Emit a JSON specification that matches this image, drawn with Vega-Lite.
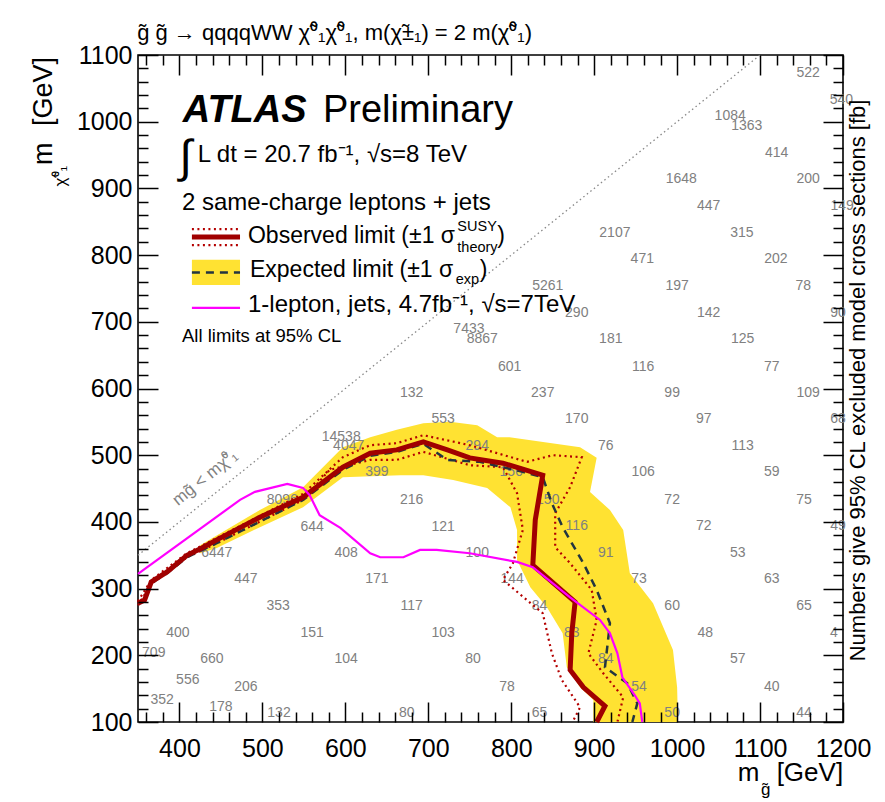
{
"$schema": "https://vega.github.io/schema/vega-lite/v6.json",
"width": 705, "height": 667,
"autosize": {"type": "none"},
"padding": {"left": 138, "top": 55, "right": 42, "bottom": 80},
"background": "white",
"config": {"view": {"stroke": "black", "strokeWidth": 1.6}, "font": "Liberation Sans", "text": {"font": "Liberation Sans"}},
"resolve": {"axis": {"x": "independent", "y": "independent"}},
"datasets": {
"band": [{"i":1,"mg":425,"mc":365},{"i":2,"mg":497,"mc":418},{"i":3,"mg":549,"mc":452},{"i":4,"mg":597,"mc":512},{"i":5,"mg":630,"mc":527},{"i":6,"mg":662,"mc":538},{"i":7,"mg":694,"mc":548},{"i":8,"mg":726,"mc":550},{"i":9,"mg":759,"mc":545},{"i":10,"mg":783,"mc":527},{"i":11,"mg":798,"mc":527},{"i":12,"mg":883,"mc":512},{"i":13,"mg":903,"mc":496},{"i":14,"mg":895,"mc":445},{"i":15,"mg":919,"mc":418},{"i":16,"mg":935,"mc":388},{"i":17,"mg":943,"mc":323},{"i":18,"mg":971,"mc":278},{"i":19,"mg":995,"mc":208},{"i":20,"mg":1000,"mc":152},{"i":21,"mg":1001,"mc":100},{"i":22,"mg":899,"mc":100},{"i":23,"mg":899,"mc":133},{"i":24,"mg":883,"mc":152},{"i":25,"mg":867,"mc":182},{"i":26,"mg":862,"mc":233},{"i":27,"mg":843,"mc":272},{"i":28,"mg":823,"mc":302},{"i":29,"mg":807,"mc":343},{"i":30,"mg":807,"mc":388},{"i":31,"mg":799,"mc":422},{"i":32,"mg":771,"mc":451},{"i":33,"mg":730,"mc":463},{"i":34,"mg":694,"mc":470},{"i":35,"mg":666,"mc":470},{"i":36,"mg":597,"mc":467},{"i":37,"mg":549,"mc":422},{"i":38,"mg":497,"mc":392},{"i":39,"mg":445,"mc":361},{"i":40,"mg":425,"mc":353}],
"obs": [{"i":1,"mg":350,"mc":278},{"i":2,"mg":358,"mc":283},{"i":3,"mg":366,"mc":310},{"i":4,"mg":385,"mc":325},{"i":5,"mg":409,"mc":350},{"i":6,"mg":427,"mc":361},{"i":7,"mg":445,"mc":373},{"i":8,"mg":497,"mc":407},{"i":9,"mg":549,"mc":437},{"i":10,"mg":597,"mc":482},{"i":11,"mg":630,"mc":503},{"i":12,"mg":662,"mc":508},{"i":13,"mg":694,"mc":520},{"i":14,"mg":723,"mc":508},{"i":15,"mg":750,"mc":496},{"i":16,"mg":790,"mc":488},{"i":17,"mg":838,"mc":470},{"i":18,"mg":829,"mc":403},{"i":19,"mg":826,"mc":335},{"i":20,"mg":877,"mc":280},{"i":21,"mg":873,"mc":233},{"i":22,"mg":871,"mc":178},{"i":23,"mg":887,"mc":152},{"i":24,"mg":913,"mc":124},{"i":25,"mg":903,"mc":100}],
"exp": [{"i":1,"mg":350,"mc":278},{"i":2,"mg":358,"mc":283},{"i":3,"mg":366,"mc":308},{"i":4,"mg":385,"mc":323},{"i":5,"mg":409,"mc":347},{"i":6,"mg":445,"mc":368},{"i":7,"mg":549,"mc":433},{"i":8,"mg":597,"mc":478},{"i":9,"mg":630,"mc":499},{"i":10,"mg":662,"mc":505},{"i":11,"mg":694,"mc":517},{"i":12,"mg":723,"mc":493},{"i":13,"mg":762,"mc":490},{"i":14,"mg":814,"mc":475},{"i":15,"mg":838,"mc":467},{"i":16,"mg":849,"mc":428},{"i":17,"mg":862,"mc":392},{"i":18,"mg":887,"mc":338},{"i":19,"mg":903,"mc":298},{"i":20,"mg":919,"mc":248},{"i":21,"mg":913,"mc":182},{"i":22,"mg":940,"mc":158},{"i":23,"mg":952,"mc":128},{"i":24,"mg":946,"mc":100}],
"thup": [{"i":1,"mg":350,"mc":281},{"i":2,"mg":366,"mc":313},{"i":3,"mg":409,"mc":353},{"i":4,"mg":445,"mc":376},{"i":5,"mg":549,"mc":442},{"i":6,"mg":597,"mc":497},{"i":7,"mg":630,"mc":515},{"i":8,"mg":662,"mc":518},{"i":9,"mg":694,"mc":530},{"i":10,"mg":750,"mc":515},{"i":11,"mg":819,"mc":490},{"i":12,"mg":850,"mc":500},{"i":13,"mg":885,"mc":497},{"i":14,"mg":871,"mc":452},{"i":15,"mg":853,"mc":413},{"i":16,"mg":853,"mc":362},{"i":17,"mg":871,"mc":338},{"i":18,"mg":897,"mc":298},{"i":19,"mg":903,"mc":253},{"i":20,"mg":893,"mc":203},{"i":21,"mg":911,"mc":173},{"i":22,"mg":935,"mc":137},{"i":23,"mg":928,"mc":100}],
"thdn": [{"i":1,"mg":350,"mc":275},{"i":2,"mg":366,"mc":307},{"i":3,"mg":409,"mc":347},{"i":4,"mg":445,"mc":368},{"i":5,"mg":549,"mc":433},{"i":6,"mg":581,"mc":478},{"i":7,"mg":630,"mc":493},{"i":8,"mg":662,"mc":493},{"i":9,"mg":694,"mc":505},{"i":10,"mg":750,"mc":485},{"i":11,"mg":790,"mc":482},{"i":12,"mg":807,"mc":443},{"i":13,"mg":814,"mc":388},{"i":14,"mg":802,"mc":338},{"i":15,"mg":790,"mc":313},{"i":16,"mg":838,"mc":263},{"i":17,"mg":849,"mc":203},{"i":18,"mg":861,"mc":163},{"i":19,"mg":883,"mc":122},{"i":20,"mg":874,"mc":100}],
"lep7": [{"i":1,"mg":350,"mc":322},{"i":2,"mg":473,"mc":433},{"i":3,"mg":491,"mc":445},{"i":4,"mg":530,"mc":457},{"i":5,"mg":549,"mc":451},{"i":6,"mg":557,"mc":440},{"i":7,"mg":569,"mc":410},{"i":8,"mg":594,"mc":391},{"i":9,"mg":630,"mc":353},{"i":10,"mg":642,"mc":347},{"i":11,"mg":670,"mc":347},{"i":12,"mg":690,"mc":358},{"i":13,"mg":710,"mc":358},{"i":14,"mg":750,"mc":353},{"i":15,"mg":807,"mc":340},{"i":16,"mg":826,"mc":332},{"i":17,"mg":871,"mc":287},{"i":18,"mg":907,"mc":253},{"i":19,"mg":919,"mc":233},{"i":20,"mg":928,"mc":203},{"i":21,"mg":934,"mc":167},{"i":22,"mg":949,"mc":140},{"i":23,"mg":955,"mc":128},{"i":24,"mg":958,"mc":100}],
"diag": [{"i":1,"mg":350,"mc":350},{"i":2,"mg":1100,"mc":1100}],
"xs": [
{"mg":1158,"mc":1073,"t":"522"},{"mg":1198,"mc":1033,"t":"540"},{"mg":1064,"mc":1009,"t":"1084"},{"mg":1084,"mc":994,"t":"1363"},{"mg":1120,"mc":953,"t":"414"},{"mg":1005,"mc":914,"t":"1648"},{"mg":1158,"mc":914,"t":"200"},{"mg":1038,"mc":874,"t":"447"},{"mg":1199,"mc":874,"t":"149"},{"mg":925,"mc":833,"t":"2107"},{"mg":1078,"mc":833,"t":"315"},{"mg":958,"mc":794,"t":"471"},{"mg":1119,"mc":794,"t":"202"},{"mg":844,"mc":754,"t":"5261"},{"mg":1000,"mc":754,"t":"197"},{"mg":1152,"mc":754,"t":"78"},{"mg":879,"mc":713,"t":"290"},{"mg":1038,"mc":713,"t":"142"},{"mg":1194,"mc":713,"t":"90"},{"mg":749,"mc":689,"t":"7433"},{"mg":765,"mc":674,"t":"8867"},{"mg":920,"mc":674,"t":"181"},{"mg":1079,"mc":674,"t":"125"},{"mg":798,"mc":632,"t":"601"},{"mg":959,"mc":632,"t":"116"},{"mg":1114,"mc":632,"t":"77"},{"mg":680,"mc":593,"t":"132"},{"mg":838,"mc":593,"t":"237"},{"mg":994,"mc":593,"t":"99"},{"mg":1158,"mc":593,"t":"109"},{"mg":718,"mc":554,"t":"553"},{"mg":879,"mc":554,"t":"170"},{"mg":1032,"mc":554,"t":"97"},{"mg":1194,"mc":554,"t":"68"},{"mg":595,"mc":527,"t":"14538"},{"mg":604,"mc":514,"t":"4047"},{"mg":759,"mc":514,"t":"294"},{"mg":914,"mc":514,"t":"76"},{"mg":1079,"mc":514,"t":"113"},{"mg":638,"mc":475,"t":"399"},{"mg":800,"mc":475,"t":"150"},{"mg":959,"mc":475,"t":"106"},{"mg":1114,"mc":475,"t":"59"},{"mg":524,"mc":433,"t":"8096"},{"mg":680,"mc":433,"t":"216"},{"mg":844,"mc":433,"t":"150"},{"mg":994,"mc":433,"t":"72"},{"mg":1153,"mc":433,"t":"75"},{"mg":560,"mc":392,"t":"644"},{"mg":718,"mc":392,"t":"121"},{"mg":879,"mc":394,"t":"116"},{"mg":1032,"mc":394,"t":"72"},{"mg":1194,"mc":394,"t":"49"},{"mg":445,"mc":353,"t":"6447"},{"mg":601,"mc":353,"t":"408"},{"mg":759,"mc":353,"t":"100"},{"mg":914,"mc":353,"t":"91"},{"mg":1073,"mc":353,"t":"53"},{"mg":480,"mc":314,"t":"447"},{"mg":638,"mc":314,"t":"171"},{"mg":801,"mc":314,"t":"144"},{"mg":954,"mc":314,"t":"73"},{"mg":1114,"mc":314,"t":"63"},{"mg":519,"mc":274,"t":"353"},{"mg":680,"mc":274,"t":"117"},{"mg":834,"mc":274,"t":"84"},{"mg":994,"mc":274,"t":"60"},{"mg":1153,"mc":274,"t":"65"},{"mg":398,"mc":233,"t":"400"},{"mg":560,"mc":233,"t":"151"},{"mg":718,"mc":233,"t":"103"},{"mg":873,"mc":233,"t":"83"},{"mg":1034,"mc":233,"t":"48"},{"mg":1189,"mc":233,"t":"4"},{"mg":369,"mc":204,"t":"709"},{"mg":439,"mc":195,"t":"660"},{"mg":601,"mc":195,"t":"104"},{"mg":754,"mc":195,"t":"80"},{"mg":914,"mc":195,"t":"84"},{"mg":1073,"mc":195,"t":"57"},{"mg":410,"mc":163,"t":"556"},{"mg":480,"mc":153,"t":"206"},{"mg":795,"mc":153,"t":"78"},{"mg":954,"mc":153,"t":"54"},{"mg":1114,"mc":153,"t":"40"},{"mg":379,"mc":133,"t":"352"},{"mg":450,"mc":123,"t":"178"},{"mg":520,"mc":114,"t":"132"},{"mg":674,"mc":114,"t":"80"},{"mg":834,"mc":114,"t":"65"},{"mg":994,"mc":114,"t":"50"},{"mg":1153,"mc":114,"t":"44"}]
},
"layer": [
{"data": {"name": "band"}, "mark": {"type": "line", "fill": "#ffe232", "strokeOpacity": 0, "interpolate": "linear-closed"},
 "encoding": {
  "x": {"field": "mg", "type": "quantitative", "scale": {"domain": [350, 1200], "nice": false, "zero": false},
        "axis": {"orient": "bottom", "values": [400,500,600,700,800,900,1000,1100,1200], "format": "d", "ticks": false, "domain": false, "grid": false, "labelFontSize": 25, "labelColor": "black", "labelPadding": 14, "labelFlush": false, "labelFont": "Liberation Sans", "title": null}},
  "y": {"field": "mc", "type": "quantitative", "scale": {"domain": [100, 1100], "nice": false, "zero": false},
        "axis": {"orient": "left", "values": [100,200,300,400,500,600,700,800,900,1000,1100], "format": "d", "ticks": false, "domain": false, "grid": false, "labelFontSize": 25, "labelColor": "black", "labelPadding": 6, "labelFlush": false, "labelFont": "Liberation Sans", "title": null}},
  "order": {"field": "i", "type": "quantitative"}}},
{"data": {"name": "xs"}, "mark": {"type": "text", "fontSize": 14, "color": "#808080", "align": "center", "baseline": "middle"},
 "encoding": {
  "x": {"field": "mg", "type": "quantitative", "axis": {"orient": "bottom", "values": [400,500,600,700,800,900,1000,1100,1200], "labels": false, "domain": false, "grid": false, "tickSize": -20, "tickColor": "black", "tickWidth": 1.5, "title": null, "zindex": 1}},
  "y": {"field": "mc", "type": "quantitative", "axis": {"orient": "left", "values": [100,200,300,400,500,600,700,800,900,1000,1100], "labels": false, "domain": false, "grid": false, "tickSize": -20, "tickColor": "black", "tickWidth": 1.5, "title": null, "zindex": 1}},
  "text": {"field": "t", "type": "nominal"}}},
{"data": {"name": "diag"}, "mark": {"type": "line", "color": "#888888", "strokeWidth": 1.3, "strokeDash": [1.5, 3]},
 "encoding": {
  "x": {"field": "mg", "type": "quantitative", "axis": {"orient": "bottom", "values": [360,380,420,440,460,480,520,540,560,580,620,640,660,680,720,740,760,780,820,840,860,880,920,940,960,980,1020,1040,1060,1080,1120,1140,1160,1180], "labels": false, "domain": false, "grid": false, "tickSize": -10, "tickColor": "black", "tickWidth": 1.5, "title": null, "zindex": 1}},
  "y": {"field": "mc", "type": "quantitative", "axis": {"orient": "left", "values": [120,140,160,180,220,240,260,280,320,340,360,380,420,440,460,480,520,540,560,580,620,640,660,680,720,740,760,780,820,840,860,880,920,940,960,980,1020,1040,1060,1080], "labels": false, "domain": false, "grid": false, "tickSize": -10, "tickColor": "black", "tickWidth": 1.5, "title": null, "zindex": 1}},
  "order": {"field": "i", "type": "quantitative"}}},
{"data": {"name": "thdn"}, "mark": {"type": "line", "color": "#b40000", "strokeWidth": 2.2, "strokeDash": [2, 3.5]},
 "encoding": {
  "x": {"field": "mg", "type": "quantitative", "axis": {"orient": "top", "values": [400,500,600,700,800,900,1000,1100,1200], "labels": false, "domain": false, "grid": false, "tickSize": -20, "tickColor": "black", "tickWidth": 1.5, "title": null, "zindex": 1}},
  "y": {"field": "mc", "type": "quantitative", "axis": {"orient": "right", "values": [100,200,300,400,500,600,700,800,900,1000,1100], "labels": false, "domain": false, "grid": false, "tickSize": -20, "tickColor": "black", "tickWidth": 1.5, "title": null, "zindex": 1}},
  "order": {"field": "i", "type": "quantitative"}}},
{"data": {"name": "thup"}, "mark": {"type": "line", "color": "#b40000", "strokeWidth": 2.2, "strokeDash": [2, 3.5]},
 "encoding": {
  "x": {"field": "mg", "type": "quantitative", "axis": {"orient": "top", "values": [360,380,420,440,460,480,520,540,560,580,620,640,660,680,720,740,760,780,820,840,860,880,920,940,960,980,1020,1040,1060,1080,1120,1140,1160,1180], "labels": false, "domain": false, "grid": false, "tickSize": -10, "tickColor": "black", "tickWidth": 1.5, "title": null, "zindex": 1}},
  "y": {"field": "mc", "type": "quantitative", "axis": {"orient": "right", "values": [120,140,160,180,220,240,260,280,320,340,360,380,420,440,460,480,520,540,560,580,620,640,660,680,720,740,760,780,820,840,860,880,920,940,960,980,1020,1040,1060,1080], "labels": false, "domain": false, "grid": false, "tickSize": -10, "tickColor": "black", "tickWidth": 1.5, "title": null, "zindex": 1}},
  "order": {"field": "i", "type": "quantitative"}}},
{"data": {"name": "exp"}, "mark": {"type": "line", "color": "#233540", "strokeWidth": 2.5, "strokeDash": [8, 6]},
 "encoding": {"x": {"field": "mg", "type": "quantitative", "axis": null}, "y": {"field": "mc", "type": "quantitative", "axis": null}, "order": {"field": "i", "type": "quantitative"}}},
{"data": {"name": "obs"}, "mark": {"type": "line", "color": "#a00000", "strokeWidth": 5, "strokeJoin": "miter"},
 "encoding": {"x": {"field": "mg", "type": "quantitative", "axis": null}, "y": {"field": "mc", "type": "quantitative", "axis": null}, "order": {"field": "i", "type": "quantitative"}}},
{"data": {"name": "lep7"}, "mark": {"type": "line", "color": "#ff00ff", "strokeWidth": 2.2},
 "encoding": {"x": {"field": "mg", "type": "quantitative", "axis": null}, "y": {"field": "mc", "type": "quantitative", "axis": null}, "order": {"field": "i", "type": "quantitative"}}},
{"data": {"values": [{"x1": 415, "x2": 473, "y1": 755, "y2": 793}]}, "mark": {"type": "rect", "color": "#ffe232"},
 "encoding": {"x": {"field": "x1", "type": "quantitative", "axis": null}, "x2": {"field": "x2"}, "y": {"field": "y1", "type": "quantitative", "axis": null}, "y2": {"field": "y2"}}},
{"data": {"values": [{"x1": 415, "x2": 473, "y": 774}]}, "mark": {"type": "rule", "color": "#233540", "strokeWidth": 2.5, "strokeDash": [8, 6]},
 "encoding": {"x": {"field": "x1", "type": "quantitative", "axis": null}, "x2": {"field": "x2"}, "y": {"field": "y", "type": "quantitative", "axis": null}}},
{"data": {"values": [{"x1": 415, "x2": 473, "y": 827}]}, "mark": {"type": "rule", "color": "#a00000", "strokeWidth": 5},
 "encoding": {"x": {"field": "x1", "type": "quantitative", "axis": null}, "x2": {"field": "x2"}, "y": {"field": "y", "type": "quantitative", "axis": null}}},
{"data": {"values": [{"x1": 415, "x2": 473, "y": 839}, {"x1": 415, "x2": 473, "y": 815}]}, "mark": {"type": "rule", "color": "#b40000", "strokeWidth": 2.2, "strokeDash": [2, 3.5]},
 "encoding": {"x": {"field": "x1", "type": "quantitative", "axis": null}, "x2": {"field": "x2"}, "y": {"field": "y", "type": "quantitative", "axis": null}}},
{"data": {"values": [{"x1": 415, "x2": 473, "y": 721}]}, "mark": {"type": "rule", "color": "#ff00ff", "strokeWidth": 2.2},
 "encoding": {"x": {"field": "x1", "type": "quantitative", "axis": null}, "x2": {"field": "x2"}, "y": {"field": "y", "type": "quantitative", "axis": null}}},
{"data": {"values": [{"x": 404, "y": 1000, "t": "ATLAS"}]}, "mark": {"type": "text", "fontSize": 38, "fontWeight": "bold", "fontStyle": "italic", "align": "left", "baseline": "alphabetic", "color": "black"},
 "encoding": {"x": {"field": "x", "type": "quantitative", "axis": null}, "y": {"field": "y", "type": "quantitative", "axis": null}, "text": {"field": "t"}}},
{"data": {"values": [{"x": 573, "y": 1000, "t": "Preliminary"}]}, "mark": {"type": "text", "fontSize": 38, "align": "left", "baseline": "alphabetic", "color": "black"},
 "encoding": {"x": {"field": "x", "type": "quantitative", "axis": null}, "y": {"field": "y", "type": "quantitative", "axis": null}, "text": {"field": "t"}}},
{"data": {"values": [{"x": 400, "y": 925, "t": "∫"}]}, "mark": {"type": "text", "fontSize": 46, "align": "left", "baseline": "alphabetic", "color": "black"},
 "encoding": {"x": {"field": "x", "type": "quantitative", "axis": null}, "y": {"field": "y", "type": "quantitative", "axis": null}, "text": {"field": "t"}}},
{"data": {"values": [{"x": 422, "y": 940, "t": "L dt = 20.7 fb⁻¹, √s=8 TeV"}, {"x": 403, "y": 868, "t": "2 same-charge leptons + jets"}, {"x": 482.6, "y": 715, "t": "1-lepton, jets, 4.7fb⁻¹, √s=7TeV"}]},
 "mark": {"type": "text", "fontSize": 24, "align": "left", "baseline": "alphabetic", "color": "black"},
 "encoding": {"x": {"field": "x", "type": "quantitative", "axis": null}, "y": {"field": "y", "type": "quantitative", "axis": null}, "text": {"field": "t"}}},
{"data": {"values": [{"x": 482.6, "y": 818, "t": "Observed limit (±1 σ"}, {"x": 783, "y": 818, "t": ")"}, {"x": 485, "y": 767, "t": "Expected limit (±1 σ"}, {"x": 762, "y": 767, "t": ")"}]},
 "mark": {"type": "text", "fontSize": 23, "align": "left", "baseline": "alphabetic", "color": "black"},
 "encoding": {"x": {"field": "x", "type": "quantitative", "axis": null}, "y": {"field": "y", "type": "quantitative", "axis": null}, "text": {"field": "t"}}},
{"data": {"values": [{"x": 735, "y": 836, "t": "SUSY"}, {"x": 735, "y": 805, "t": "theory"}, {"x": 733, "y": 757, "t": "exp"}]},
 "mark": {"type": "text", "fontSize": 14.5, "align": "left", "baseline": "alphabetic", "color": "black"},
 "encoding": {"x": {"field": "x", "type": "quantitative", "axis": null}, "y": {"field": "y", "type": "quantitative", "axis": null}, "text": {"field": "t"}}},
{"data": {"values": [{"x": 403, "y": 670, "t": "All limits at 95% CL"}]}, "mark": {"type": "text", "fontSize": 18.5, "align": "left", "baseline": "alphabetic", "color": "black"},
 "encoding": {"x": {"field": "x", "type": "quantitative", "axis": null}, "y": {"field": "y", "type": "quantitative", "axis": null}, "text": {"field": "t"}}},
{"data": {"values": [{"x": 349, "y": 1122, "t": "g̃ g̃ → qqqqWW χ̃⁰₁χ̃⁰₁, m(χ̃±₁) = 2 m(χ̃⁰₁)"}]}, "mark": {"type": "text", "fontSize": 22, "align": "left", "baseline": "alphabetic", "color": "black"},
 "encoding": {"x": {"field": "x", "type": "quantitative", "axis": null}, "y": {"field": "y", "type": "quantitative", "axis": null}, "text": {"field": "t"}}},
{"data": {"values": [{"x": 431, "y": 466, "t": "mg̃ < mχ̃⁰₁"}]}, "mark": {"type": "text", "fontSize": 17, "angle": -39, "align": "center", "baseline": "middle", "color": "#808080"},
 "encoding": {"x": {"field": "x", "type": "quantitative", "axis": null}, "y": {"field": "y", "type": "quantitative", "axis": null}, "text": {"field": "t"}}},
{"data": {"values": [{"x": 1073, "y": 11, "t": "m"}, {"x": 1120, "y": 11, "t": "[GeV]"}]}, "mark": {"type": "text", "fontSize": 26, "align": "left", "baseline": "alphabetic", "color": "black"},
 "encoding": {"x": {"field": "x", "type": "quantitative", "axis": null}, "y": {"field": "y", "type": "quantitative", "axis": null}, "text": {"field": "t"}}},
{"data": {"values": [{"x": 1101, "y": -10, "t": "g̃"}]}, "mark": {"type": "text", "fontSize": 17, "align": "left", "baseline": "alphabetic", "color": "black"},
 "encoding": {"x": {"field": "x", "type": "quantitative", "axis": null}, "y": {"field": "y", "type": "quantitative", "axis": null}, "text": {"field": "t"}}},
{"data": {"values": [{"x": 246, "y": 1097, "t": "[GeV]"}]}, "mark": {"type": "text", "fontSize": 27, "angle": -90, "align": "right", "baseline": "alphabetic", "color": "black"},
 "encoding": {"x": {"field": "x", "type": "quantitative", "axis": null}, "y": {"field": "y", "type": "quantitative", "axis": null}, "text": {"field": "t"}}},
{"data": {"values": [{"x": 246, "y": 935, "t": "m"}]}, "mark": {"type": "text", "fontSize": 27, "angle": -90, "align": "left", "baseline": "alphabetic", "color": "black"},
 "encoding": {"x": {"field": "x", "type": "quantitative", "axis": null}, "y": {"field": "y", "type": "quantitative", "axis": null}, "text": {"field": "t"}}},
{"data": {"values": [{"x": 263, "y": 903, "t": "χ̃⁰₁"}]}, "mark": {"type": "text", "fontSize": 17, "angle": -90, "align": "left", "baseline": "alphabetic", "color": "black"},
 "encoding": {"x": {"field": "x", "type": "quantitative", "axis": null}, "y": {"field": "y", "type": "quantitative", "axis": null}, "text": {"field": "t"}}},
{"data": {"values": [{"x": 1218, "y": 612, "t": "Numbers give 95% CL excluded model cross sections [fb]"}]}, "mark": {"type": "text", "fontSize": 22, "angle": -90, "align": "center", "baseline": "middle", "color": "black"},
 "encoding": {"x": {"field": "x", "type": "quantitative", "axis": null}, "y": {"field": "y", "type": "quantitative", "axis": null}, "text": {"field": "t"}}}
]
}
